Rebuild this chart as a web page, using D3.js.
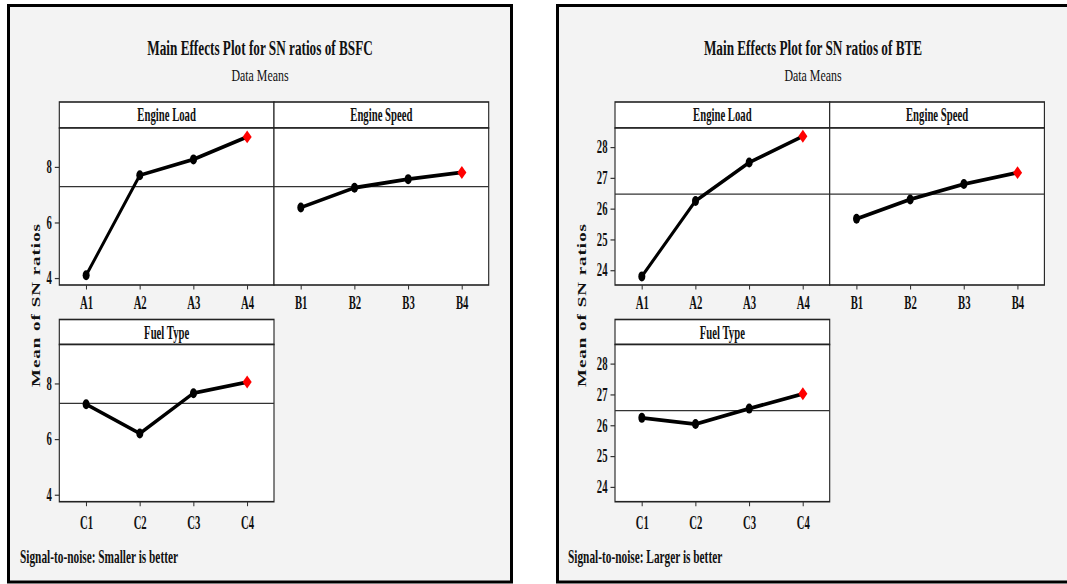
<!DOCTYPE html>
<html>
<head>
<meta charset="utf-8">
<script src="https://cdn.jsdelivr.net/npm/d3@7"></script>
<style>
  html, body { margin: 0; padding: 0; background: #fff; }
  svg { display: block; }
  text { font-family: "Liberation Serif", "Times New Roman", serif; fill: #111; }
</style>
</head>
<body>
<svg id="chart" width="1067" height="584"></svg>
<script>
// Factor levels
const loadLevels = ["A1", "A2", "A3", "A4"];
const speedLevels = ["B1", "B2", "B3", "B4"];
const fuelLevels = ["C1", "C2", "C3", "C4"];
const factorNames = ["Engine Load", "Engine Speed", "Fuel Type"];

// Mean S/N ratios for BSFC (smaller is better)
const bsfcLoad = [4.10, 7.70, 8.27, 9.08];
const bsfcSpeed = [6.54, 7.25, 7.56, 7.80];
const bsfcFuel = [7.25, 6.20, 7.65, 8.05];
const bsfcTicks = [4, 6, 8];
const bsfcDomain = [3.75, 9.4];

// Mean S/N ratios for BTE (larger is better)
const bteLoad = [23.80, 26.25, 27.50, 28.35];
const bteSpeed = [25.67, 26.30, 26.80, 27.17];
const bteFuel = [26.24, 26.04, 26.54, 27.02];
const bteTicks = [24, 25, 26, 27, 28];
const bteDomain = [23.52, 28.62];

// Horizontal condensation applied to each plot's contents
const K = 0.7;
const panelW = 214.7;

const rows = [
  { stripTop: 102, stripBot: 128, plotBot: 285, labelPad: 8 },
  { stripTop: 319.5, stripBot: 344.5, plotBot: 501.7, labelPad: 11 }
];

const charts = [
  {
    x0: 7, x1: 513,
    title: "Main Effects Plot for SN ratios of BSFC",
    note: "Signal-to-noise: Smaller is better",
    series: [bsfcLoad, bsfcSpeed, bsfcFuel],
    levels: [loadLevels, speedLevels, fuelLevels],
    ticks: bsfcTicks, domain: bsfcDomain,
    panelLeft: 59.3, yLabelX: 39.5, noteX: 20
  },
  {
    x0: 556, x1: 1070,
    title: "Main Effects Plot for SN ratios of BTE",
    note: "Signal-to-noise: Larger is better",
    series: [bteLoad, bteSpeed, bteFuel],
    levels: [loadLevels, speedLevels, fuelLevels],
    ticks: bteTicks, domain: bteDomain,
    panelLeft: 615, yLabelX: 585.5, noteX: 568
  }
];

// Narrow the glyphs of a text selection by factor f
function condense(sel, f) {
  sel.each(function () {
    const len = this.getComputedTextLength();
    d3.select(this).attr("textLength", len * f).attr("lengthAdjust", "spacingAndGlyphs");
  });
}

const svg = d3.select("#chart");

charts.forEach(c => {
  // Outer frame
  svg.append("rect")
    .attr("x", c.x0 + 1.5).attr("y", 5.5)
    .attr("width", c.x1 - c.x0 - 3).attr("height", 576.5)
    .attr("fill", "#f3f3f3")
    .attr("stroke", "#000").attr("stroke-width", 3);

  const g = svg.append("g")
    .attr("transform", `translate(${c.x0},0) scale(${K},1)`);
  const u = x => (x - c.x0) / K;
  const cx = u((c.x0 + c.x1) / 2);

  g.append("text")
    .attr("x", cx).attr("y", 55)
    .attr("text-anchor", "middle")
    .style("font-size", "21px").style("font-weight", "bold")
    .text(c.title)
    .call(condense, 0.9);

  g.append("text")
    .attr("x", cx).attr("y", 81)
    .attr("text-anchor", "middle")
    .style("font-size", "17.5px")
    .text("Data Means")
    .call(condense, 0.97);

  g.append("text")
    .attr("transform", `translate(${u(c.yLabelX)},305) rotate(-90)`)
    .attr("text-anchor", "middle")
    .style("font-size", "19px").style("font-weight", "bold")
    .style("letter-spacing", "1px")
    .text("Mean of SN ratios");

  g.append("text")
    .attr("x", u(c.noteX)).attr("y", 563)
    .style("font-size", "18px").style("font-weight", "bold")
    .text(c.note)
    .call(condense, 0.9);

  const grand = d3.mean(c.series.flat());

  c.series.forEach((vals, i) => {
    const col = i < 2 ? i : 0;
    const row = rows[i < 2 ? 0 : 1];
    const left = c.panelLeft + col * panelW;
    const right = left + panelW;

    const x = d3.scalePoint()
      .domain(c.levels[i])
      .range([u(left), u(right)])
      .padding(0.5);
    const y = d3.scaleLinear()
      .domain(c.domain)
      .range([row.plotBot, row.stripBot]);

    // Strip header
    g.append("rect")
      .attr("x", u(left)).attr("y", row.stripTop)
      .attr("width", u(right) - u(left)).attr("height", row.stripBot - row.stripTop)
      .attr("fill", "#fff").attr("stroke", "#222").attr("stroke-width", 1.6);
    g.append("text")
      .attr("x", (u(left) + u(right)) / 2).attr("y", row.stripTop + 19.5)
      .attr("text-anchor", "middle")
      .style("font-size", "18px").style("font-weight", "bold")
      .text(factorNames[i])
      .call(condense, 0.85);

    // Plot area
    g.append("rect")
      .attr("x", u(left)).attr("y", row.stripBot)
      .attr("width", u(right) - u(left)).attr("height", row.plotBot - row.stripBot)
      .attr("fill", "#fff").attr("stroke", "#222").attr("stroke-width", 1.6);

    // Overall mean reference line
    g.append("line")
      .attr("x1", u(left)).attr("x2", u(right))
      .attr("y1", y(grand)).attr("y2", y(grand))
      .attr("stroke", "#333").attr("stroke-width", 1.3);

    // Y axis on the first column only
    if (col === 0) {
      const ya = g.append("g")
        .attr("transform", `translate(${u(left)},0)`)
        .call(d3.axisLeft(y).tickValues(c.ticks).tickSize(4.5 / K).tickPadding(3 / K).tickFormat(d3.format("d")));
      ya.select(".domain").remove();
      ya.selectAll("line").attr("stroke", "#333").attr("stroke-width", 1.2);
      ya.selectAll("text")
        .style("font-size", "18px").style("font-weight", "bold")
        .style("font-family", "'Liberation Serif', serif").attr("fill", "#111")
        .call(condense, 0.85);
    }

    // X axis
    const xa = g.append("g")
      .attr("transform", `translate(0,${row.plotBot})`)
      .call(d3.axisBottom(x).tickSize(4.5).tickPadding(row.labelPad - 1));
    xa.select(".domain").remove();
    xa.selectAll("line").attr("stroke", "#333").attr("stroke-width", 1.5);
    xa.selectAll("text")
      .style("font-size", "18px").style("font-weight", "bold")
      .style("font-family", "'Liberation Serif', serif").attr("fill", "#111")
      .call(condense, 0.85);

    // Main effect line
    const pts = c.levels[i].map((lv, j) => ({ lv, v: vals[j] }));
    g.append("path")
      .datum(pts)
      .attr("fill", "none")
      .attr("stroke", "#000").attr("stroke-width", 3.8)
      .attr("stroke-linejoin", "round")
      .attr("d", d3.line().x(d => x(d.lv)).y(d => y(d.v)));

    // Level markers: dots, with the best level as a red diamond
    g.selectAll(null)
      .data(pts.slice(0, -1))
      .join("circle")
      .attr("cx", d => x(d.lv)).attr("cy", d => y(d.v))
      .attr("r", 5).attr("fill", "#000");

    const last = pts[pts.length - 1];
    g.append("path")
      .attr("d", d3.symbol(d3.symbolSquare, 84)())
      .attr("transform", `translate(${x(last.lv)},${y(last.v)}) rotate(45)`)
      .attr("fill", "#ff0000");
  });
});
</script>
</body>
</html>
